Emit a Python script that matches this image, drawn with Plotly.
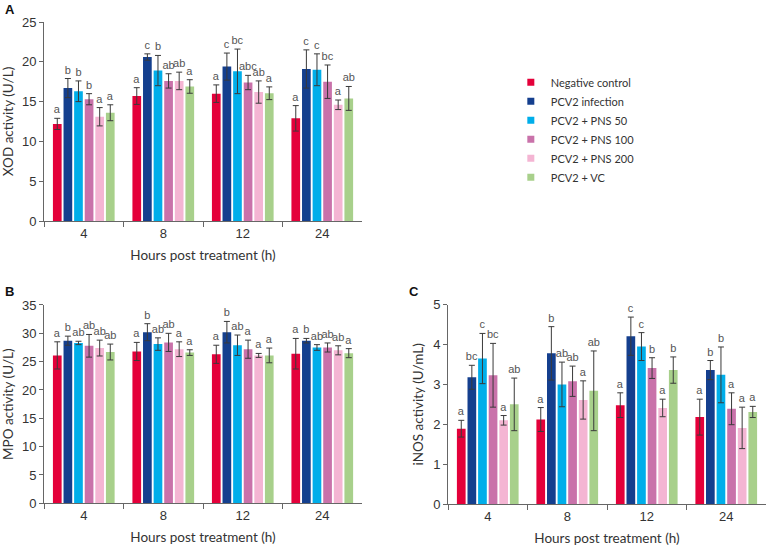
import plotly.graph_objects as go

hours = ["4", "8", "12", "24"]
groups = ["Negative control", "PCV2 infection", "PCV2 + PNS 50",
          "PCV2 + PNS 100", "PCV2 + PNS 200", "PCV2 + VC"]
colors = ["#E4003A", "#143F8E", "#00AEEA", "#C972AA", "#F4B5D3", "#A8D08B"]

# XOD activity (U/L)
xod_mean = [[12.2, 15.7, 16.0, 12.9],
            [16.7, 20.6, 19.4, 19.1],
            [16.3, 18.9, 18.8, 19.0],
            [15.3, 17.6, 17.4, 17.5],
            [13.1, 17.6, 16.2, 14.6],
            [13.6, 16.9, 16.05, 15.4]]
xod_sd = [[0.7, 1.05, 1.1, 1.6],
          [1.2, 0.4, 1.7, 2.4],
          [1.3, 1.9, 2.8, 2.0],
          [0.7, 0.9, 0.9, 2.1],
          [1.15, 1.1, 1.4, 0.6],
          [1.0, 0.85, 0.8, 1.5]]
xod_sig = [["a", "a", "a", "a"],
           ["b", "c", "c", "c"],
           ["b", "b", "bc", "c"],
           ["b", "ab", "abc", "bc"],
           ["a", "ab", "ab", "a"],
           ["a", "a", "a", "ab"]]

# MPO activity (U/L)
mpo_mean = [[26.1, 26.8, 26.3, 26.4],
            [28.7, 30.2, 30.2, 28.7],
            [28.3, 28.1, 27.9, 27.5],
            [27.8, 28.4, 27.2, 27.5],
            [27.4, 27.2, 26.1, 27.0],
            [26.7, 26.6, 26.1, 26.5]]
mpo_sd = [[2.4, 1.6, 1.6, 2.7],
          [0.8, 1.5, 1.9, 0.4],
          [0.3, 1.1, 1.8, 0.5],
          [2.0, 1.6, 1.6, 0.8],
          [1.4, 1.3, 0.35, 0.8],
          [1.4, 0.5, 1.3, 0.8]]
mpo_sig = [["a", "a", "a", "a"],
           ["b", "b", "b", "b"],
           ["ab", "ab", "ab", "ab"],
           ["ab", "ab", "a", "ab"],
           ["ab", "a", "a", "ab"],
           ["ab", "a", "a", "a"]]

# iNOS activity (U/mL)
inos_mean = [[1.89, 2.12, 2.48, 2.18],
             [3.18, 3.78, 4.21, 3.36],
             [3.65, 3.0, 3.95, 3.24],
             [3.23, 3.08, 3.41, 2.39],
             [2.1, 2.61, 2.41, 1.91],
             [2.5, 2.84, 3.36, 2.31]]
inos_sd = [[0.21, 0.3, 0.31, 0.45],
           [0.3, 0.67, 0.48, 0.24],
           [0.63, 0.56, 0.35, 0.7],
           [0.8, 0.38, 0.26, 0.4],
           [0.12, 0.48, 0.22, 0.52],
           [0.66, 1.0, 0.33, 0.14]]
inos_sig = [["a", "a", "a", "a"],
            ["bc", "b", "c", "b"],
            ["c", "ab", "c", "b"],
            ["bc", "ab", "b", "a"],
            ["a", "a", "a", "a"],
            ["ab", "ab", "b", "a"]]

TICK_FONT = dict(family="Liberation Sans, Arial", size=13, color="#333")
TITLE_FONT = dict(family="Lato, Liberation Sans", size=13.5, color="#333")
SIG_FONT = dict(family="Liberation Sans, Arial", size=11, color="#555")

fig = go.Figure()

panels = [
    ("x", "y", xod_mean, xod_sd, xod_sig),
    ("x2", "y2", mpo_mean, mpo_sd, mpo_sig),
    ("x3", "y3", inos_mean, inos_sd, inos_sig),
]

for xa, ya, means, sds, sigs in panels:
    for i, name in enumerate(groups):
        fig.add_trace(go.Bar(
            x=hours, y=means[i], name=name,
            marker=dict(color=colors[i], line=dict(width=0)),
            error_y=dict(type="data", array=sds[i], color="#3a3a3a",
                         thickness=1, width=3),
            offsetgroup=str(i), xaxis=xa, yaxis=ya,
            showlegend=False, hoverinfo="skip",
        ))
        # invisible sliver on top of the error bar that carries the letters
        tops = [m + s for m, s in zip(means[i], sds[i])]
        fig.add_trace(go.Bar(
            x=hours, y=[1e-6] * len(hours), base=tops,
            text=sigs[i], textposition="outside", textangle=0,
            constraintext="none", cliponaxis=False,
            textfont=SIG_FONT, outsidetextfont=SIG_FONT,
            marker=dict(color="rgba(0,0,0,0)", line=dict(width=0)),
            offsetgroup=str(i), xaxis=xa, yaxis=ya,
            showlegend=False, hoverinfo="skip",
        ))

# legend entries with small square swatches
for i, name in enumerate(groups):
    fig.add_trace(go.Scatter(
        x=[None], y=[None], mode="markers", name=name,
        marker=dict(symbol="square", size=7, color=colors[i]),
        xaxis="x", yaxis="y",
    ))

xaxis_style = dict(
    type="category", tickson="boundaries", ticks="outside", ticklen=5,
    tickcolor="#666", showline=True, linecolor="#666", linewidth=1,
    showgrid=False, zeroline=False, tickfont=TICK_FONT, automargin=False,
    title=dict(text="Hours post treatment (h)", font=TITLE_FONT, standoff=10),
)
yaxis_style = dict(
    ticks="outside", ticklen=4, tickcolor="#666", showline=True,
    linecolor="#666", linewidth=1, showgrid=False, zeroline=False,
    tickfont=TICK_FONT, automargin=False,
)

fig.update_layout(
    width=767, height=546, autosize=False,
    margin=dict(l=0, r=0, t=0, b=0, pad=0),
    paper_bgcolor="white", plot_bgcolor="white",
    barmode="group", bargap=0.2, bargroupgap=0.18,
    xaxis=dict(domain=[0.0574, 0.4720], anchor="y", **xaxis_style),
    yaxis=dict(domain=[0.5952, 0.9597], anchor="x", range=[0, 25], dtick=5,
               title=dict(text="XOD activity (U/L)", font=TITLE_FONT, standoff=6),
               **yaxis_style),
    xaxis2=dict(domain=[0.0574, 0.4720], anchor="y2", **xaxis_style),
    yaxis2=dict(domain=[0.0782, 0.4414], anchor="x2", range=[0, 35], dtick=5,
                title=dict(text="MPO activity (U/L)", font=TITLE_FONT, standoff=6),
                **yaxis_style),
    xaxis3=dict(domain=[0.5841, 0.9987], anchor="y3", **xaxis_style),
    yaxis3=dict(domain=[0.0769, 0.4419], anchor="x3", range=[0, 5], dtick=1,
                title=dict(text="iNOS activity (U/mL)", font=TITLE_FONT, standoff=6),
                **yaxis_style),
    legend=dict(x=0.666, y=0.876, xanchor="left", yanchor="top",
                font=dict(family="Lato, Liberation Sans", size=11, color="#333"),
                bgcolor="rgba(0,0,0,0)", tracegroupgap=0, itemwidth=30),
    showlegend=True,
    annotations=[
        dict(text="<b>A</b>", x=0.004, y=1.0, xref="paper", yref="paper",
             xanchor="left", yanchor="top", showarrow=False,
             font=dict(family="Liberation Sans, Arial", size=13, color="#111")),
        dict(text="<b>B</b>", x=0.004, y=0.484, xref="paper", yref="paper",
             xanchor="left", yanchor="top", showarrow=False,
             font=dict(family="Liberation Sans, Arial", size=13, color="#111")),
        dict(text="<b>C</b>", x=0.531, y=0.484, xref="paper", yref="paper",
             xanchor="left", yanchor="top", showarrow=False,
             font=dict(family="Liberation Sans, Arial", size=13, color="#111")),
    ],
)

fig.write_html("out.html", config={"displayModeBar": False},
               post_script="document.body.style.margin='0';")
